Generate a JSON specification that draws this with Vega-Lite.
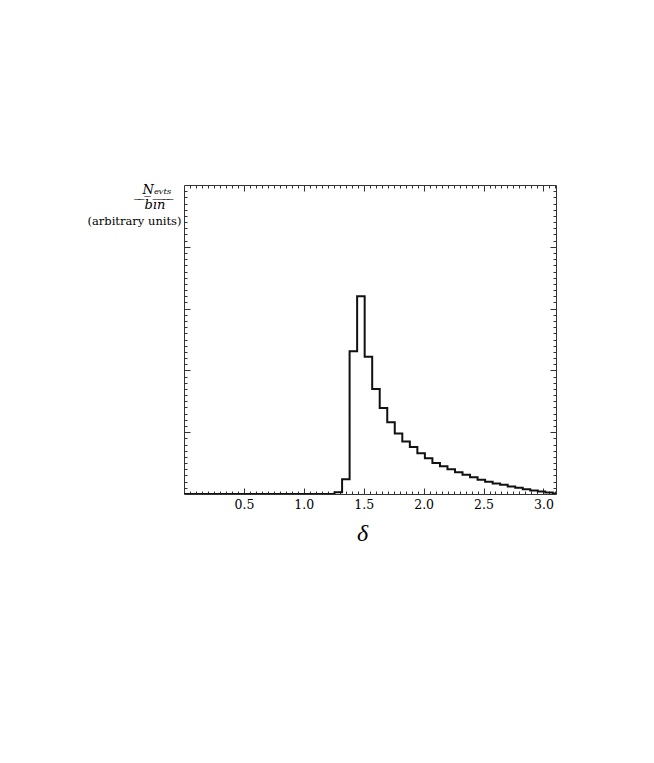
{
  "$schema": "https://vega.github.io/schema/vega-lite/v6.json",
  "width": 372,
  "height": 309,
  "autosize": "none",
  "padding": {"left": 184, "top": 185, "right": 98, "bottom": 269},
  "background": "white",
  "config": {
    "view": {"stroke": "#333", "strokeWidth": 1},
    "axis": {"grid": false, "domain": false, "tickColor": "#333", "tickWidth": 1, "labelFont": "DejaVu Serif", "labelFontSize": 12.5, "labelColor": "#000", "titleColor": "#000"}
  },
  "title": {
    "text": ["Nₑᵥₜₛ", " ̅ ̅b̅i̅n̅ ̅ ̅"],
    "anchor": "start",
    "align": "center",
    "baseline": "alphabetic",
    "frame": "group",
    "offset": 0,
    "dx": -27,
    "dy": 37,
    "font": "DejaVu Serif",
    "fontStyle": "italic",
    "fontWeight": "normal",
    "fontSize": 13,
    "lineHeight": 15,
    "color": "#000"
  },
  "data": {
    "values": [
      {"delta": 0.0, "n": 0}, {"delta": 0.0628, "n": 0}, {"delta": 0.1257, "n": 0}, {"delta": 0.1885, "n": 0},
      {"delta": 0.2513, "n": 0}, {"delta": 0.3142, "n": 0}, {"delta": 0.3770, "n": 0}, {"delta": 0.4398, "n": 0},
      {"delta": 0.5027, "n": 0}, {"delta": 0.5655, "n": 0}, {"delta": 0.6283, "n": 0}, {"delta": 0.6912, "n": 0},
      {"delta": 0.7540, "n": 0}, {"delta": 0.8168, "n": 0}, {"delta": 0.8796, "n": 0}, {"delta": 0.9425, "n": 0},
      {"delta": 1.0053, "n": 0}, {"delta": 1.0681, "n": 0}, {"delta": 1.1310, "n": 0}, {"delta": 1.1938, "n": 0},
      {"delta": 1.2566, "n": 0.03}, {"delta": 1.3195, "n": 0.24}, {"delta": 1.3823, "n": 2.31}, {"delta": 1.4451, "n": 3.20},
      {"delta": 1.5080, "n": 2.22}, {"delta": 1.5708, "n": 1.70}, {"delta": 1.6336, "n": 1.39}, {"delta": 1.6965, "n": 1.16},
      {"delta": 1.7593, "n": 0.98}, {"delta": 1.8221, "n": 0.85}, {"delta": 1.8850, "n": 0.76}, {"delta": 1.9478, "n": 0.66},
      {"delta": 2.0106, "n": 0.58}, {"delta": 2.0735, "n": 0.50}, {"delta": 2.1363, "n": 0.45}, {"delta": 2.1991, "n": 0.40},
      {"delta": 2.2619, "n": 0.35}, {"delta": 2.3248, "n": 0.31}, {"delta": 2.3876, "n": 0.27}, {"delta": 2.4504, "n": 0.23},
      {"delta": 2.5133, "n": 0.20}, {"delta": 2.5761, "n": 0.17}, {"delta": 2.6389, "n": 0.15}, {"delta": 2.7018, "n": 0.12},
      {"delta": 2.7646, "n": 0.10}, {"delta": 2.8274, "n": 0.075}, {"delta": 2.8903, "n": 0.055}, {"delta": 2.9531, "n": 0.04},
      {"delta": 3.0159, "n": 0.025}, {"delta": 3.0788, "n": 0.01}, {"delta": 3.1416, "n": 0}
    ]
  },
  "layer": [
    {
      "mark": {"type": "line", "interpolate": "step-after", "color": "#111", "strokeWidth": 2, "clip": true},
      "encoding": {
        "x": {"field": "delta", "type": "quantitative", "scale": {"domain": [0, 3.105], "nice": false, "zero": false},
          "axis": {"orient": "bottom", "offset": -6, "tickSize": 6, "labelPadding": 4, "values": [0.5, 1.0, 1.5, 2.0, 2.5, 3.0], "format": ".1f",
            "title": "δ", "titleFont": "Liberation Serif", "titleFontStyle": "italic", "titleFontWeight": "normal", "titleFontSize": 24,
            "titleX": 178, "titleY": 52, "titleBaseline": "alphabetic", "titleAlign": "center"}},
        "y": {"field": "n", "type": "quantitative", "scale": {"domain": [0, 5], "nice": false},
          "axis": {"orient": "left", "offset": -6, "tickSize": 6, "labels": false, "values": [1, 2, 3, 4],
            "title": "(arbitrary units)", "titleAngle": 0, "titleAlign": "right", "titleBaseline": "alphabetic",
            "titleX": -9, "titleY": 39, "titleFont": "DejaVu Serif", "titleFontWeight": "normal", "titleFontSize": 11.5}}
      }
    },
    {
      "mark": {"type": "line", "opacity": 0},
      "encoding": {
        "x": {"field": "delta", "type": "quantitative",
          "axis": {"orient": "bottom", "offset": -3, "tickSize": 3, "labels": false, "title": null,
            "values": [0.05,0.1,0.15,0.2,0.25,0.3,0.35,0.4,0.45,0.5,0.55,0.6,0.65,0.7,0.75,0.8,0.85,0.9,0.95,1.0,1.05,1.1,1.15,1.2,1.25,1.3,1.35,1.4,1.45,1.5,1.55,1.6,1.65,1.7,1.75,1.8,1.85,1.9,1.95,2.0,2.05,2.1,2.15,2.2,2.25,2.3,2.35,2.4,2.45,2.5,2.55,2.6,2.65,2.7,2.75,2.8,2.85,2.9,2.95,3.0,3.05,3.1]}},
        "y": {"field": "n", "type": "quantitative",
          "axis": {"orient": "left", "offset": -3, "tickSize": 3, "labels": false, "title": null,
            "values": [0.1,0.2,0.3,0.4,0.5,0.6,0.7,0.8,0.9,1.1,1.2,1.3,1.4,1.5,1.6,1.7,1.8,1.9,2.1,2.2,2.3,2.4,2.5,2.6,2.7,2.8,2.9,3.1,3.2,3.3,3.4,3.5,3.6,3.7,3.8,3.9,4.1,4.2,4.3,4.4,4.5,4.6,4.7,4.8,4.9]}}
      }
    },
    {
      "mark": {"type": "line", "opacity": 0},
      "encoding": {
        "x": {"field": "delta", "type": "quantitative",
          "axis": {"orient": "top", "offset": -6, "tickSize": 6, "labels": false, "title": null, "values": [0.5, 1.0, 1.5, 2.0, 2.5, 3.0]}},
        "y": {"field": "n", "type": "quantitative",
          "axis": {"orient": "right", "offset": -6, "tickSize": 6, "labels": false, "title": null, "values": [1, 2, 3, 4]}}
      }
    },
    {
      "mark": {"type": "line", "opacity": 0},
      "encoding": {
        "x": {"field": "delta", "type": "quantitative",
          "axis": {"orient": "top", "offset": -3, "tickSize": 3, "labels": false, "title": null,
            "values": [0.05,0.1,0.15,0.2,0.25,0.3,0.35,0.4,0.45,0.5,0.55,0.6,0.65,0.7,0.75,0.8,0.85,0.9,0.95,1.0,1.05,1.1,1.15,1.2,1.25,1.3,1.35,1.4,1.45,1.5,1.55,1.6,1.65,1.7,1.75,1.8,1.85,1.9,1.95,2.0,2.05,2.1,2.15,2.2,2.25,2.3,2.35,2.4,2.45,2.5,2.55,2.6,2.65,2.7,2.75,2.8,2.85,2.9,2.95,3.0,3.05,3.1]}},
        "y": {"field": "n", "type": "quantitative",
          "axis": {"orient": "right", "offset": -3, "tickSize": 3, "labels": false, "title": null,
            "values": [0.1,0.2,0.3,0.4,0.5,0.6,0.7,0.8,0.9,1.1,1.2,1.3,1.4,1.5,1.6,1.7,1.8,1.9,2.1,2.2,2.3,2.4,2.5,2.6,2.7,2.8,2.9,3.1,3.2,3.3,3.4,3.5,3.6,3.7,3.8,3.9,4.1,4.2,4.3,4.4,4.5,4.6,4.7,4.8,4.9]}}
      }
    }
  ],
  "resolve": {"axis": {"x": "independent", "y": "independent"}}
}
